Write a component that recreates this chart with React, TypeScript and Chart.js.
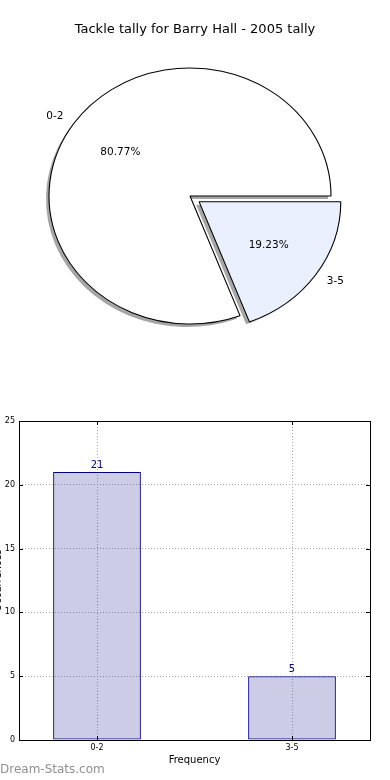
import React, { useEffect, useRef } from 'react';
import { Chart, registerables } from 'chart.js';

Chart.register(...registerables);

const FONT = '"DejaVu Sans", sans-serif';

const TITLE = 'Tackle tally for Barry Hall - 2005 tally';
const categories = ['0-2', '3-5'];
const values = [21, 5];
const explodeOffsets = [0, 40];
const pieColors = ['#ffffff', '#ebf0fe'];
const Y_LABEL = 'Occurrences';
const X_LABEL = 'Frequency';
const WATERMARK = 'Dream-Stats.com';
const yMin = 0;
const yMax = 25;
const yStep = 5;

const total = values.reduce((a, b) => a + b, 0);

// ellipse geometry (matplotlib pie on a non-square axes)
const SX = 141 / 128;
const PIE_CX = 190;
const PIE_CY = 196;

const piePlugin = {
  id: 'pieEllipse',
  beforeDatasetsDraw(chart: any) {
    const ctx = chart.ctx as CanvasRenderingContext2D;
    const arcs = chart.getDatasetMeta(0).data as any[];
    ctx.save();
    if (!arcs.length) return;
    const cx = arcs[0].x;
    const cy = arcs[0].y;
    ctx.translate(PIE_CX, PIE_CY);
    ctx.scale(SX, 1);
    ctx.translate(-cx, -cy);
    // shadows
    ctx.save();
    ctx.translate(-3 / SX, 3);
    ctx.fillStyle = '#a6a6a6';
    arcs.forEach((a) => {
      const mid = (a.startAngle + a.endAngle) / 2;
      const t = (a.options.offset || 0) / 4;
      const x = a.x + Math.cos(mid) * t;
      const y = a.y + Math.sin(mid) * t;
      ctx.beginPath();
      ctx.moveTo(x, y);
      ctx.arc(x, y, a.outerRadius, a.startAngle, a.endAngle);
      ctx.closePath();
      ctx.fill();
    });
    ctx.restore();
  },
  afterDatasetsDraw(chart: any) {
    const ctx = chart.ctx as CanvasRenderingContext2D;
    ctx.restore();
    const arcs = chart.getDatasetMeta(0).data as any[];
    const labels = chart.data.labels as string[];
    const data = chart.data.datasets[0].data as number[];
    ctx.save();
    ctx.fillStyle = '#000';
    ctx.font = `10.5px ${FONT}`;
    ctx.textBaseline = 'middle';
    arcs.forEach((a, i) => {
      const mid = (a.startAngle + a.endAngle) / 2;
      const t = (a.options.offset || 0) / 4;
      const ox = PIE_CX + Math.cos(mid) * t * SX;
      const oy = PIE_CY + Math.sin(mid) * t;
      const r = a.outerRadius;
      const lx = ox + 1.1 * r * Math.cos(mid) * SX;
      const ly = oy + 1.1 * r * Math.sin(mid);
      ctx.textAlign = Math.cos(mid) >= 0 ? 'left' : 'right';
      ctx.fillText(labels[i], lx + (Math.cos(mid) >= 0 ? 0 : 1), ly);
      const px = ox + 0.6 * r * Math.cos(mid) * SX;
      const py = oy + 0.6 * r * Math.sin(mid);
      ctx.textAlign = 'center';
      ctx.fillText(((data[i] / total) * 100).toFixed(2) + '%', px, py);
    });
    ctx.restore();
  },
};

const barPlugin = {
  id: 'barExtras',
  afterDraw(chart: any) {
    const ctx = chart.ctx as CanvasRenderingContext2D;
    const { left, right, top, bottom } = chart.chartArea;
    const xs = chart.scales.x;
    const ys = chart.scales.y;
    ctx.save();
    // value labels
    const meta = chart.getDatasetMeta(0);
    ctx.fillStyle = 'navy';
    ctx.font = `10px ${FONT}`;
    ctx.textAlign = 'center';
    ctx.textBaseline = 'bottom';
    meta.data.forEach((b: any, i: number) => {
      ctx.fillText(String(values[i]), b.x, b.y - 2);
    });
    // inward ticks
    ctx.strokeStyle = '#000';
    ctx.lineWidth = 1;
    ctx.beginPath();
    ys.ticks.forEach((t: any) => {
      const y = Math.round(ys.getPixelForValue(t.value)) + 0.5;
      ctx.moveTo(left, y);
      ctx.lineTo(left + 4, y);
      ctx.moveTo(right, y);
      ctx.lineTo(right - 4, y);
    });
    xs.ticks.forEach((t: any) => {
      const x = Math.round(xs.getPixelForValue(t.value)) + 0.5;
      ctx.moveTo(x, bottom);
      ctx.lineTo(x, bottom - 4);
      ctx.moveTo(x, top);
      ctx.lineTo(x, top + 4);
    });
    ctx.stroke();
    // frame
    ctx.strokeRect(Math.round(left) + 0.5, Math.round(top) + 0.5, Math.round(right - left), Math.round(bottom - top));
    // watermark
    ctx.fillStyle = '#8f8f8f';
    ctx.font = `12px ${FONT}`;
    ctx.textAlign = 'left';
    ctx.textBaseline = 'middle';
    ctx.fillText(WATERMARK, 0, 370);
    ctx.restore();
  },
};

export default function App() {
  const pieRef = useRef<HTMLCanvasElement>(null);
  const barRef = useRef<HTMLCanvasElement>(null);

  useEffect(() => {
    Chart.defaults.font.family = FONT;
    Chart.defaults.color = '#000';

    const pie = new Chart(pieRef.current as HTMLCanvasElement, {
      type: 'pie',
      data: {
        labels: categories,
        datasets: [
          {
            data: values,
            backgroundColor: pieColors,
            borderColor: '#000',
            borderWidth: 1,
            offset: explodeOffsets,
            clip: false,
          } as any,
        ],
      },
      options: {
        responsive: false,
        animation: false,
        devicePixelRatio: 1,
        events: [],
        rotation: 90 + (360 * values[1]) / total,
        radius: 128,
        layout: { padding: { top: 0, bottom: 55.6, left: 0, right: 0 } },
        plugins: {
          legend: { display: false },
          tooltip: { enabled: false },
          title: {
            display: true,
            text: TITLE,
            color: '#000',
            font: { family: FONT, size: 13, weight: 'normal' },
            padding: { top: 22, bottom: 10 },
          },
        },
      } as any,
      plugins: [piePlugin],
    });

    const bar = new Chart(barRef.current as HTMLCanvasElement, {
      type: 'bar',
      data: {
        datasets: [
          {
            data: values.map((v, i) => ({ x: i, y: v })),
            backgroundColor: 'rgba(0,0,128,0.2)',
            borderColor: 'navy',
            borderWidth: 1,
            borderSkipped: false,
            categoryPercentage: 0.45,
            barPercentage: 1,
          } as any,
        ],
      },
      options: {
        responsive: false,
        animation: false,
        devicePixelRatio: 1,
        events: [],
        layout: { padding: { top: 21, right: 20, left: 0, bottom: 0 } },
        plugins: { legend: { display: false }, tooltip: { enabled: false } },
        scales: {
          x: {
            type: 'linear',
            min: -0.4,
            max: 1.4,
            offset: false,
            afterBuildTicks: (s: any) => {
              s.ticks = categories.map((_, i) => ({ value: i }));
            },
            afterFit: (s: any) => {
              s.height = 40;
            },
            ticks: {
              callback: (v: any) => categories[v] ?? '',
              font: { size: 8 },
              color: '#000',
              padding: 3,
              maxRotation: 0,
              autoSkip: false,
            },
            grid: { color: '#a8a8a8', lineWidth: 1, drawTicks: false, offset: false },
            border: { display: false, dash: [1, 2] },
            title: {
              display: true,
              text: X_LABEL,
              color: '#000',
              font: { size: 10 },
              padding: { top: 0, bottom: 14 },
            },
          },
          y: {
            min: yMin,
            max: yMax,
            afterFit: (s: any) => {
              s.width = 19;
            },
            ticks: { stepSize: yStep, font: { size: 8 }, color: '#000', padding: 4 },
            grid: { color: '#a8a8a8', lineWidth: 1, drawTicks: false },
            border: { display: false, dash: [1, 2] },
            title: {
              display: true,
              text: Y_LABEL,
              color: '#000',
              font: { size: 10 },
              padding: { top: -7.5, bottom: 0 },
            },
          },
        },
      } as any,
      plugins: [barPlugin],
    });

    return () => {
      pie.destroy();
      bar.destroy();
    };
  }, []);

  return (
    <div style={{ position: 'fixed', left: 0, top: 0, width: 390, height: 780, background: '#fff' }}>
      <canvas
        ref={pieRef}
        width={390}
        height={400}
        style={{ position: 'absolute', left: 0, top: 0, width: 390, height: 400 }}
      />
      <canvas
        ref={barRef}
        width={390}
        height={380}
        style={{ position: 'absolute', left: 0, top: 400, width: 390, height: 380 }}
      />
    </div>
  );
}
